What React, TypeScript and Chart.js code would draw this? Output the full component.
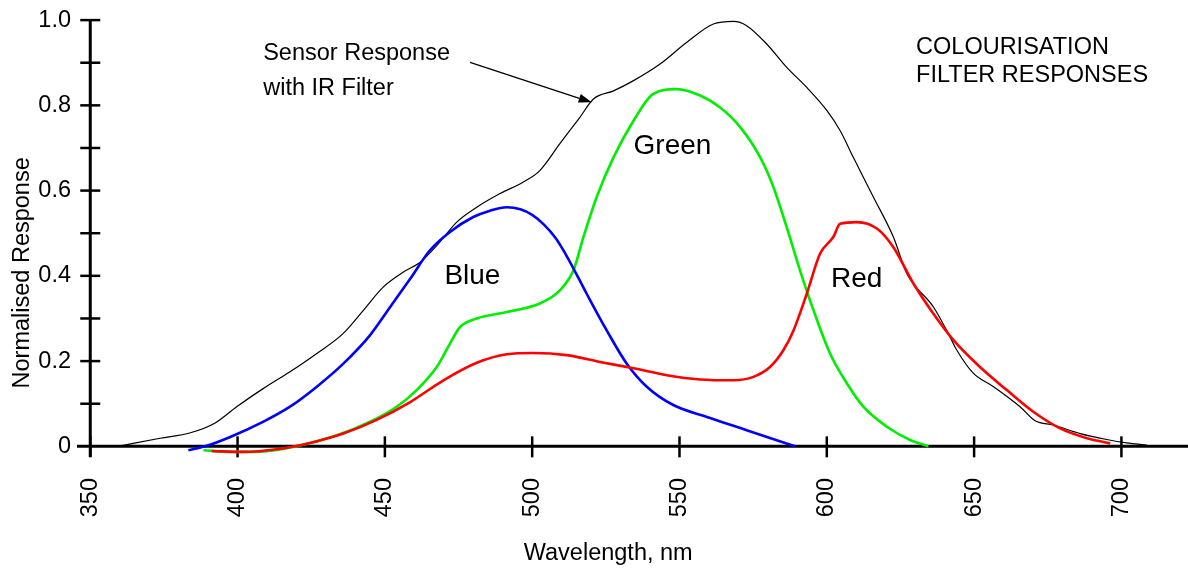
import React, { useEffect, useRef } from 'react';
import { Chart, registerables } from 'chart.js';

Chart.register(...registerables);

// ---- Data (wavelength in nm, normalised response) ----
const sensorNm = [359.4, 373.7, 384, 392.4, 399.7, 408.8, 417.8, 426.9, 435.9, 442.7, 449.5, 456.3, 462, 467.6, 474.4, 481.2, 489.1, 497, 502.6, 509.4, 516.2, 520.8, 527.6, 534.4, 543.4, 552.5, 561.5, 568.3, 572.8, 579.6, 586.4, 593.2, 600, 604.5, 609, 615.8, 622.6, 627.2, 636.2, 640.7, 644.1, 649.8, 656.6, 665.6, 670.7, 676.9, 686, 695, 701.8, 708.6];
const sensorVal = [0, 0.019, 0.032, 0.055, 0.093, 0.136, 0.175, 0.218, 0.265, 0.319, 0.374, 0.409, 0.432, 0.471, 0.526, 0.561, 0.593, 0.62, 0.647, 0.71, 0.772, 0.815, 0.834, 0.858, 0.897, 0.948, 0.991, 0.997, 0.987, 0.944, 0.889, 0.842, 0.788, 0.741, 0.678, 0.585, 0.491, 0.405, 0.327, 0.272, 0.226, 0.171, 0.14, 0.093, 0.06, 0.05, 0.03, 0.016, 0.008, 0.003];

const blueNm = [383.3, 389, 397.5, 408.8, 417.8, 426.9, 435.9, 445, 451.8, 458.6, 465.3, 472.1, 480, 485.7, 491.4, 496, 500, 504, 508, 512, 518.5, 525.3, 532.1, 538.9, 547.9, 559.3, 572.8, 589.2];
const blueVal = [-0.009, 0, 0.022, 0.058, 0.093, 0.14, 0.194, 0.261, 0.327, 0.393, 0.46, 0.503, 0.538, 0.553, 0.561, 0.556, 0.543, 0.52, 0.488, 0.443, 0.358, 0.272, 0.194, 0.14, 0.097, 0.069, 0.038, 0];

const greenNm = [388.4, 397.5, 406.5, 420.1, 433.7, 445, 454, 460.8, 467.6, 472.1, 475.5, 481.2, 491.4, 502.6, 509.4, 514, 517.4, 521.9, 527.6, 534.4, 541.1, 549.1, 557, 563.8, 570.6, 577.4, 581.9, 586.4, 590.9, 595.5, 601.1, 606.8, 612.4, 620.4, 628.3, 634.5];
const greenVal = [-0.009, -0.013, -0.013, 0, 0.026, 0.058, 0.093, 0.132, 0.186, 0.241, 0.28, 0.3, 0.315, 0.335, 0.366, 0.413, 0.491, 0.585, 0.678, 0.764, 0.827, 0.838, 0.823, 0.795, 0.749, 0.678, 0.608, 0.514, 0.413, 0.319, 0.218, 0.148, 0.093, 0.046, 0.015, 0];

const redNm = [391.2, 402, 413.3, 424.6, 435.9, 447.2, 458.6, 469.9, 481.2, 491.4, 500.4, 511.7, 523, 534.4, 545.7, 557, 568.3, 575.1, 580.7, 585.3, 588.7, 593.2, 597.7, 602.2, 604.5, 610.2, 617, 622.6, 629.4, 636.2, 643, 652, 661.1, 670.1, 679.2, 688.3, 696.2];
const redVal = [-0.011, -0.013, -0.007, 0.008, 0.03, 0.062, 0.104, 0.155, 0.196, 0.216, 0.219, 0.214, 0.198, 0.183, 0.167, 0.157, 0.155, 0.163, 0.186, 0.226, 0.272, 0.358, 0.452, 0.491, 0.522, 0.526, 0.511, 0.467, 0.382, 0.311, 0.249, 0.186, 0.132, 0.081, 0.042, 0.019, 0.007];

// ---- Axis ticks ----
const xTicks = [350, 400, 450, 500, 550, 600, 650, 700];
const yLabelTicks = [0, 0.2, 0.4, 0.6, 0.8, 1.0];
const yMarkTicks = [0.1, 0.2, 0.3, 0.4, 0.5, 0.6, 0.7, 0.8, 0.9, 1.0];

// ---- Annotation text (positions in data units) ----
const curveLabels = ['Blue', 'Green', 'Red'];
const curveLabelNm = [470.2, 534.4, 601.4];
const curveLabelVal = [0.382, 0.685, 0.375];
const noteLines = ['Sensor Response', 'with IR Filter'];
const noteNm = 408.7;
const noteVal = [0.907, 0.825];
const arrowFrom = [478.9, 0.901];
const arrowTo = [520.2, 0.807];
const titleLines = ['COLOURISATION', 'FILTER RESPONSES'];
const titleNm = 630.3;
const titleVal = [0.92, 0.854];
const xTitle = 'Wavelength, nm';
const yTitle = 'Normalised Response';

const FAMILY = '"Liberation Sans", Arial, Helvetica, sans-serif';
const FSIZE = 23.5;
const FONT = `${FSIZE}px ${FAMILY}`;
const LABEL_FONT = `28px ${FAMILY}`;

const toPts = (xs: number[], ys: number[]) => xs.map((x, i) => ({ x, y: ys[i] }));

const overlayPlugin = {
  id: 'overlay',
  beforeDatasetsDraw(chart: any) {
    const { ctx, chartArea, scales } = chart;
    const x = scales.x;
    const y = scales.y;
    const y0 = y.getPixelForValue(0);
    const xA = x.getPixelForValue(350);
    ctx.save();
    ctx.strokeStyle = '#000';
    ctx.lineWidth = 3;
    ctx.beginPath();
    ctx.moveTo(chartArea.left, y0);
    ctx.lineTo(chartArea.right, y0);
    ctx.stroke();
    ctx.beginPath();
    ctx.moveTo(xA, y.getPixelForValue(1));
    ctx.lineTo(xA, chartArea.bottom);
    ctx.stroke();
    ctx.lineWidth = 2.5;
    yMarkTicks.forEach((v) => {
      const py = y.getPixelForValue(v);
      ctx.beginPath();
      ctx.moveTo(xA - 10, py);
      ctx.lineTo(xA + 10, py);
      ctx.stroke();
    });
    xTicks.forEach((v) => {
      const px = x.getPixelForValue(v);
      ctx.beginPath();
      ctx.moveTo(px, y0 - 10);
      ctx.lineTo(px, y0 + 11);
      ctx.stroke();
    });
    ctx.restore();
  },
  afterDatasetsDraw(chart: any) {
    const { ctx, scales } = chart;
    const x = scales.x;
    const y = scales.y;
    ctx.save();
    ctx.fillStyle = '#000';
    ctx.textAlign = 'left';
    ctx.textBaseline = 'alphabetic';
    ctx.font = LABEL_FONT;
    curveLabels.forEach((t, i) => {
      ctx.fillText(t, x.getPixelForValue(curveLabelNm[i]), y.getPixelForValue(curveLabelVal[i]));
    });
    ctx.font = FONT;
    noteLines.forEach((t, i) => {
      ctx.fillText(t, x.getPixelForValue(noteNm), y.getPixelForValue(noteVal[i]));
    });
    titleLines.forEach((t, i) => {
      ctx.fillText(t, x.getPixelForValue(titleNm), y.getPixelForValue(titleVal[i]));
    });
    // arrow
    const ax = x.getPixelForValue(arrowFrom[0]);
    const ay = y.getPixelForValue(arrowFrom[1]);
    const bx = x.getPixelForValue(arrowTo[0]);
    const by = y.getPixelForValue(arrowTo[1]);
    const ang = Math.atan2(by - ay, bx - ax);
    const hl = 13;
    const hw = 4.5;
    ctx.strokeStyle = '#000';
    ctx.lineWidth = 1.3;
    ctx.beginPath();
    ctx.moveTo(ax, ay);
    ctx.lineTo(bx - Math.cos(ang) * hl, by - Math.sin(ang) * hl);
    ctx.stroke();
    ctx.beginPath();
    ctx.moveTo(bx, by);
    ctx.lineTo(bx - Math.cos(ang) * hl - Math.sin(ang) * hw, by - Math.sin(ang) * hl + Math.cos(ang) * hw);
    ctx.lineTo(bx - Math.cos(ang) * hl + Math.sin(ang) * hw, by - Math.sin(ang) * hl - Math.cos(ang) * hw);
    ctx.closePath();
    ctx.fill();
    // axis titles
    ctx.textAlign = 'center';
    ctx.fillText(xTitle, x.getPixelForValue(525.8), 560);
    ctx.translate(23, y.getPixelForValue(0.407));
    ctx.rotate(-Math.PI / 2);
    ctx.textBaseline = 'middle';
    ctx.fillText(yTitle, 0, 0);
    ctx.restore();
  },
};

export default function App() {
  const ref = useRef<HTMLCanvasElement | null>(null);
  useEffect(() => {
    if (!ref.current) return;
    const line = (label: string, pts: any[], color: string, width: number) => ({
      label,
      data: pts,
      borderColor: color,
      backgroundColor: color,
      borderWidth: width,
      pointRadius: 0,
      fill: false,
      cubicInterpolationMode: 'monotone' as const,
      clip: false as any,
    });
    const chart = new Chart(ref.current, {
      type: 'line',
      data: {
        datasets: [
          line('Red', toPts(redNm, redVal), '#ff0000', 2.6),
          line('Blue', toPts(blueNm, blueVal), '#0000ff', 2.6),
          line('Green', toPts(greenNm, greenVal), '#00ee00', 2.6),
          line('Sensor Response with IR Filter', toPts(sensorNm, sensorVal), '#000000', 1.2),
        ],
      },
      options: {
        animation: false,
        responsive: false,
        devicePixelRatio: 1,
        parsing: true,
        layout: { padding: { top: 19, left: 0, right: 0, bottom: 0 } },
        plugins: { legend: { display: false }, tooltip: { enabled: false } },
        scales: {
          x: {
            type: 'linear',
            min: 345.5,
            max: 722.6,
            grid: { display: false, drawTicks: false },
            border: { display: false },
            afterBuildTicks: (s: any) => {
              s.ticks = xTicks.map((v) => ({ value: v }));
            },
            afterFit: (s: any) => {
              s.height = 112;
            },
            ticks: {
              autoSkip: false,
              minRotation: 90,
              maxRotation: 90,
              padding: 21,
              color: '#000',
              font: { family: FAMILY, size: FSIZE },
              callback: (v: any) => String(v),
            },
          },
          y: {
            type: 'linear',
            min: -0.025,
            max: 1.0,
            grid: { display: false, drawTicks: false },
            border: { display: false },
            afterBuildTicks: (s: any) => {
              s.ticks = yLabelTicks.map((v) => ({ value: v }));
            },
            afterFit: (s: any) => {
              s.width = 77;
            },
            ticks: {
              padding: 6,
              color: '#000',
              font: { family: FAMILY, size: FSIZE },
              callback: (v: any) => (v === 0 ? '0' : Number(v).toFixed(1)),
            },
          },
        },
      },
      plugins: [overlayPlugin],
    });
    return () => chart.destroy();
  }, []);
  return (
    <div style={{ position: 'absolute', left: 0, top: 0, width: 1188, height: 569, background: '#fff' }}>
      <canvas ref={ref} width={1188} height={569} style={{ display: 'block', width: 1188, height: 569 }} />
    </div>
  );
}
